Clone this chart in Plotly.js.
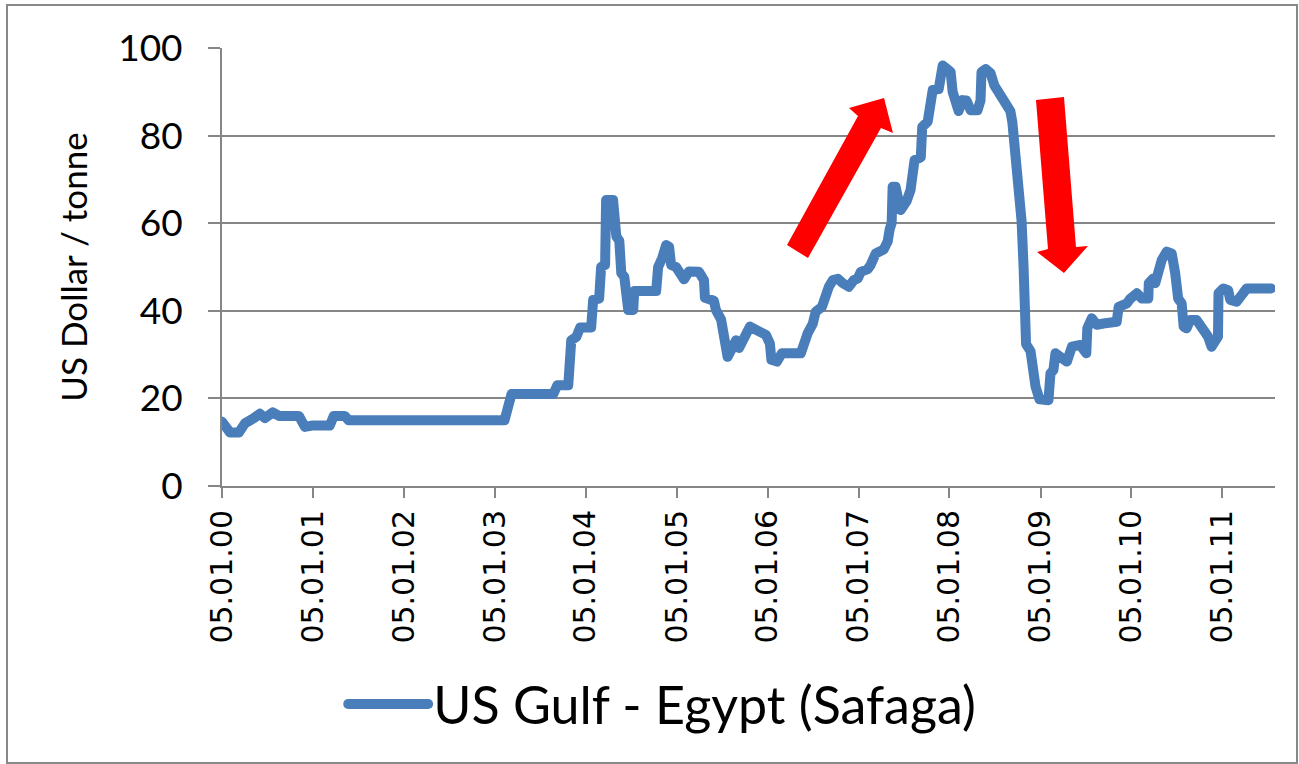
<!DOCTYPE html>
<html>
<head>
<meta charset="utf-8">
<script src="https://cdn.plot.ly/plotly-3.0.1.min.js"></script>
<style>
html,body{margin:0;padding:0;background:#fff;}
#chart{width:1299px;height:764px;}
#chart .scatterlayer path.js-line, #chart .legendlines path{stroke-linejoin:round;stroke-linecap:round;}
</style>
</head>
<body>
<div id="chart"></div>
<script>
const seriesName = "US Gulf - Egypt (Safaga)";
const dates = [
"2000-01-05","2000-01-21","2000-02-06","2000-03-13","2000-04-06","2000-05-12","2000-06-05","2000-06-25","2000-07-27","2000-08-21",
"2000-11-09","2000-12-03","2000-12-31","2001-03-13","2001-03-29","2001-05-12","2001-05-28","2003-02-13","2003-03-13","2003-08-28",
"2003-09-13","2003-10-27","2003-11-08","2003-11-28","2003-12-14","2004-01-27","2004-02-04","2004-02-28","2004-03-07","2004-03-23",
"2004-03-27","2004-04-24","2004-05-07","2004-05-19","2004-05-27","2004-06-08","2004-06-16","2004-06-24","2004-07-14","2004-07-18",
"2004-10-14","2004-10-22","2004-11-07","2004-11-23","2004-12-05","2004-12-13","2005-01-02","2005-01-14","2005-02-03","2005-02-23",
"2005-04-04","2005-04-24","2005-04-28","2005-06-03","2005-06-11","2005-07-02","2005-07-14","2005-07-28","2005-08-11","2005-08-23",
"2005-08-31","2005-09-12","2005-10-06","2005-10-26","2005-12-05","2005-12-29","2006-01-14","2006-01-20","2006-02-11","2006-03-03",
"2006-05-18","2006-05-30","2006-06-15","2006-07-05","2006-07-17","2006-08-11","2006-08-19","2006-09-08","2006-09-24","2006-10-14",
"2006-11-03","2006-11-27","2006-12-17","2007-01-02","2007-01-14","2007-02-11","2007-02-23","2007-03-15","2007-04-16","2007-05-02",
"2007-05-10","2007-05-18","2007-05-22","2007-06-03","2007-06-23","2007-07-17","2007-08-02","2007-08-10","2007-08-18","2007-09-12",
"2007-09-18","2007-10-10","2007-10-18","2007-10-30","2007-11-23","2007-12-09","2007-12-21","2008-01-10","2008-01-18","2008-01-30",
"2008-02-11","2008-02-27","2008-03-14","2008-03-30","2008-04-27","2008-05-09","2008-05-13","2008-05-30","2008-06-18","2008-07-04",
"2008-07-20","2008-08-09","2008-09-06","2008-09-14","2008-09-26","2008-10-13","2008-10-21","2008-10-29","2008-11-02","2008-11-08",
"2008-11-26","2008-12-04","2008-12-16","2009-01-01","2009-02-06","2009-02-14","2009-02-26","2009-03-06","2009-03-26","2009-04-21",
"2009-05-11","2009-06-14","2009-07-08","2009-07-12","2009-07-30","2009-08-19","2009-09-14","2009-11-07","2009-11-15","2009-12-18",
"2010-01-01","2010-01-27","2010-02-16","2010-03-14","2010-03-16","2010-04-03","2010-04-11","2010-04-23","2010-05-07","2010-05-27",
"2010-06-16","2010-06-30","2010-07-12","2010-07-26","2010-08-03","2010-08-15","2010-08-29","2010-09-24","2010-10-08","2010-10-28",
"2010-11-09","2010-11-23","2010-12-13","2010-12-19","2010-12-21","2011-01-09","2011-01-29","2011-02-06","2011-03-04","2011-03-18",
"2011-03-30","2011-04-13","2011-07-20"
];
const rates = [
14.7,13.5,12.2,12.2,14.3,15.5,16.5,15.5,16.8,16.0,
16.0,13.5,13.8,13.8,16.0,16.0,15.0,15.0,21.0,21.0,
23.0,23.0,33.3,34.0,36.2,36.2,42.5,42.8,50.0,50.5,
65.3,65.3,57.0,56.0,48.6,47.8,41.5,40.2,40.2,44.5,
44.5,50.0,52.0,55.0,54.6,50.5,50.0,49.2,47.2,49.0,
48.9,47.0,43.0,42.3,40.2,38.0,34.5,29.5,31.0,32.0,
33.3,31.5,35.0,36.4,35.2,34.5,32.5,28.8,28.4,30.3,
30.3,32.6,34.9,37.0,39.8,40.9,42.8,45.5,47.0,47.3,
46.3,45.5,47.0,47.4,48.9,49.5,50.5,53.1,54.0,55.8,
58.6,60.0,68.3,68.3,63.0,65.0,67.6,71.5,74.4,75.0,
82.0,83.2,89.0,90.4,90.6,96.0,95.5,94.5,90.0,86.5,
85.6,88.1,88.0,85.8,85.8,88.0,94.5,95.2,94.3,91.4,
90.0,88.0,85.6,83.0,76.0,71.0,60.5,50.0,42.0,32.4,
30.8,27.0,22.7,19.8,19.6,25.7,26.5,30.3,29.5,28.4,
31.8,32.2,30.3,36.0,38.3,36.8,37.1,37.5,40.9,41.7,
42.8,44.0,42.8,42.8,46.3,47.4,46.3,49.7,51.6,53.5,
53.1,48.6,42.8,41.7,36.4,36.0,37.9,37.9,36.8,36.0,
34.1,31.8,33.3,34.1,44.0,45.1,44.7,42.5,42.1,42.8,
44.0,45.1,45.1
];
const yTitle = "US Dollar / tonne";

const px = (x) => (x - 222) / 1053;
const py = (y) => (486 - y) / 438;
function poly(pts){
  return pts.map((p,i)=> (i?'L':'M') + px(p[0]).toFixed(4) + ',' + py(p[1]).toFixed(4)).join(' ') + ' Z';
}
const arrowUp = [[787,245],[858,116],[849,108],[884,98],[893,133],[881,128],[808,258]];
const arrowDown = [[1036,100],[1064,97],[1076,247],[1088,246],[1064,273],[1037,252],[1048,249]];

const trace = {
  x: dates, y: rates, type: 'scatter', mode: 'lines', name: seriesName,
  line: {color: '#4a7ebb', width: 10}
};
const layout = {
  width: 1299, height: 764,
  margin: {l: 222, r: 24, t: 48, b: 278},
  paper_bgcolor: '#ffffff', plot_bgcolor: '#ffffff',
  showlegend: true,
  legend: {
    orientation: 'h', x: 0.418, xanchor: 'center', y: -0.498, yanchor: 'middle',
    font: {family: 'Lato, sans-serif', size: 52, color: '#000'},
    itemwidth: 80
  },
  xaxis: {
    type: 'date', range: ['2000-01-05', '2011-08-05'],
    tick0: '2000-01-05', dtick: 'M12', tickformat: '%d.%m.%y', tickangle: -90,
    showgrid: false, showline: true, linecolor: '#868686', linewidth: 2,
    ticks: 'outside', ticklen: 10, tickwidth: 2, tickcolor: '#868686',
    tickfont: {family: 'DejaVu Sans, sans-serif', size: 30, color: '#000'},
    zeroline: false, fixedrange: true
  },
  yaxis: {
    range: [0, 100], dtick: 20, tick0: 0,
    showgrid: true, gridcolor: '#868686', gridwidth: 2,
    showline: true, linecolor: '#868686', linewidth: 2,
    ticks: 'outside', ticklen: 12, tickwidth: 2, tickcolor: '#868686',
    tickfont: {family: 'Lato, sans-serif', size: 37, color: '#000'},
    ticklabelstandoff: 18,
    zeroline: false,
    title: {text: yTitle, font: {family: 'Lato, sans-serif', size: 35, color: '#000'}, standoff: 20}
  },
  shapes: [
    {type: 'path', xref: 'paper', yref: 'paper', path: poly(arrowUp), fillcolor: '#ff0000', line: {width: 0}},
    {type: 'path', xref: 'paper', yref: 'paper', path: poly(arrowDown), fillcolor: '#ff0000', line: {width: 0}},
    {type: 'rect', xref: 'paper', yref: 'paper', x0: px(7), x1: px(1297), y0: py(763), y1: py(5),
     line: {color: '#888888', width: 2}, fillcolor: 'rgba(0,0,0,0)', layer: 'below'}
  ]
};
Plotly.newPlot('chart', [trace], layout, {displayModeBar: false, staticPlot: true});
</script>
</body>
</html>
